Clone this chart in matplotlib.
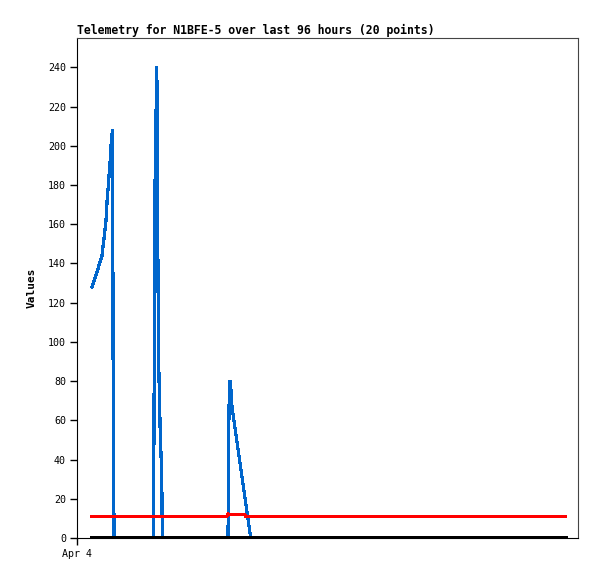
import numpy as np
import matplotlib
matplotlib.use("Agg")
import matplotlib.pyplot as plt

# hours since start of the 96 h window
blue_t = [0.0, 0.81, 1.42, 2.03, 2.44, 2.84, 3.04, 3.35, 3.65, 3.96, 4.2, 4.26, 4.47,
          12.48, 12.58, 12.79, 13.13, 13.3, 13.35, 13.5, 13.85, 14.15, 14.27,
          27.6, 27.7, 27.8, 28.0, 28.2, 28.4, 32.2]
blue_v = [128, 134, 139, 144, 153, 162, 171, 181, 191, 204, 208, 104, 0,
          0, 60, 180, 240, 210, 150, 93, 53, 32, 0,
          0, 40, 67, 80, 75, 67, 0]

red_t = [0.0, 27.4, 27.5, 29.0, 31.0, 31.2, 96.0]
red_v = [11, 11, 12.2, 12.0, 11.8, 11, 11]

black_t = [0.0, 96.0]
black_v = [0, 0]

yticks = list(range(0, 241, 20))
title = "Telemetry for N1BFE-5 over last 96 hours (20 points)"

plt.rcParams["font.family"] = "DejaVu Sans Mono"

fig = plt.figure(figsize=(5.97, 5.79), dpi=100)
ax = fig.add_axes([77 / 597, 1 - 538 / 579, 501 / 597, 500 / 579])

ax.plot(blue_t, blue_v, color="#0066CC", lw=1.6, antialiased=False, zorder=2)
ax.plot(red_t, red_v, color="#FF0000", lw=1.6, antialiased=False, zorder=3)
ax.plot(black_t, black_v, color="black", lw=2.4, antialiased=False, zorder=4)

ax.set_xlim(-3.04, 98.6)
ax.set_ylim(0, 255)
ax.set_yticks(yticks)
ax.set_xticks([-3.04])
ax.set_xticklabels(["Apr 4"])
ax.tick_params(axis="both", direction="out", length=5, width=1, labelsize=7.2, pad=3)

for side in ["top", "right"]:
    ax.spines[side].set_color("#444444")
for side in ["left", "bottom"]:
    ax.spines[side].set_color("black")

ax.set_ylabel("Values", fontsize=8, fontweight="bold", labelpad=8)
ax.set_title(title, loc="left", fontsize=8.3, fontweight="bold", pad=3)

fig.savefig("out.png", dpi=100)
